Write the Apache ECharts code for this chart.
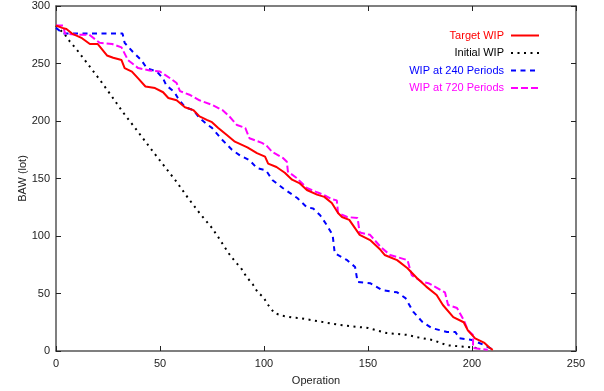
<!DOCTYPE html>
<html>
<head>
<meta charset="utf-8">
<script src="https://cdn.jsdelivr.net/npm/echarts@6/dist/echarts.min.js"></script>
<style>
  html, body { margin: 0; padding: 0; background: #fff; }
  #chart { width: 604px; height: 391px; }
</style>
</head>
<body>
<div id="chart"></div>
<script>
// Axis ticks
const xTicks = [0, 50, 100, 150, 200, 250];
const yTicks = [0, 50, 100, 150, 200, 250, 300];

// Series names
const seriesNames = ['Target WIP', 'Initial WIP', 'WIP at 240 Periods', 'WIP at 720 Periods'];

// [operation, BAW (lot)]
const targetWip = [
  [0,283],[3,281],[5,280],[7.7,276],[12.5,272],[16.3,267],[20,267],[24.5,257],[27.5,255],[31.5,253],
  [33,246],[36.5,243],[39.5,237],[43,230],[47.6,228.6],[51.5,225],[54,220],[58,218],[62,212],[66,209.5],
  [69,204],[72.5,201],[75,199],[78,194],[82,188],[86,182],[92,177],[96.6,172],[100.5,169],[102,163],
  [106,160],[110,155],[113.5,149],[117,146],[120.6,140],[125.5,136],[129,134],[132.6,128.7],[135.6,120],
  [137.5,116.5],[141,114],[146,101],[151,96.5],[156,88],[158,83.5],[164,79],[169,72],[173.5,63.5],
  [178,56],[183,48.7],[186,40],[191,29.5],[196,25],[198,18],[201.5,11],[206,7],[208.6,2.6],[210,1]
];

const initialWip = [
  [0,283],[4.3,275],[6.7,269],[10,262],[15.5,249],[21,236],[27,221],[32,208],[38,194],[46.8,173],
  [52.4,160],[58,147],[63.5,133],[69,120],[75,107],[78,99],[83,85],[86,78],[89,72],[91.6,64.5],
  [94.6,58],[97,51],[99.6,47],[102,40],[105,33],[109,30.6],[114,29],[117,28.7],[136.5,22.6],
  [144.7,21],[150,20],[159,15.6],[169,14],[173.5,12],[181,9.6],[188,5],[197.6,3.5],[202.4,2.6]
];

const wip240 = [
  [0,281],[3.5,276],[32,276],[33,268],[37,260],[41,253],[43.6,246],[48.5,243],[51.5,237],[53,231],
  [57,225],[58.6,220],[62,212],[66,209.5],[69,202.6],[73,196.5],[75,194],[80,183.5],[84.6,175],
  [88.5,170],[93,166],[96.6,159],[101,157],[104,148.7],[109,141.7],[116,133],[120.6,125],[123.6,124],
  [127,118],[130,110],[133,101],[134,85],[140,79],[143.8,73],[145,60],[151,59],[156.7,53],[164,51],
  [168,46],[171.8,34],[176,25.6],[180.6,20],[188,16.5],[192,16.5],[194,11],[200,9.6],[206,5],[209.6,1.7]
];

const wip720 = [
  [0,283],[3.5,283],[4.3,276],[10,275],[16,275],[21,268],[27,267],[31.5,264],[34.6,253],[39.5,246],
  [45,244],[50,243],[55,237],[58,233],[59.6,226],[64.5,222.6],[69,218],[75,214],[80,209.5],[83.6,203.5],
  [87,196.5],[91,194],[93,185],[99,181],[101,179],[104,173],[109,168],[111,164.5],[111.5,156],[116,150],
  [120.6,141.7],[125.5,138],[128.4,136],[132.6,132],[135,131],[135.6,120],[140,116.5],[145,115.6],
  [146,103],[151,101],[156,90.6],[160.6,83.5],[169,79],[171,66],[176,60],[179,59],[187,51],[188.5,40],
  [192.8,37.4],[196,27],[198,18],[200.5,14],[200.5,2.6],[207.6,1]
];

const FONT = "'Liberation Sans', Arial, sans-serif";
const colors = ['#ff0000', '#000000', '#0000ff', '#ff00ff'];

const chart = echarts.init(document.getElementById('chart'), null, { renderer: 'canvas' });

function valueAxis(extra) {
  return Object.assign({
    type: 'value',
    splitLine: { show: false },
    axisLine: { show: true, onZero: false, lineStyle: { color: '#555', width: 1.5 } },
    axisTick: { show: true, inside: true, length: 5, lineStyle: { color: '#222', width: 1 } },
    axisLabel: { color: '#222', fontFamily: FONT, fontSize: 11 }
  }, extra);
}

chart.setOption({
  animation: false,
  backgroundColor: '#fff',
  grid: { left: 56, right: 28, top: 6, bottom: 40, containLabel: false },
  xAxis: [
    valueAxis({
      min: xTicks[0], max: xTicks[xTicks.length - 1], interval: 50, position: 'bottom',
      name: 'Operation', nameLocation: 'middle', nameGap: 24, nameMoveOverlap: false,
      nameTextStyle: { color: '#222', fontFamily: FONT, fontSize: 11 },
      axisLabel: { color: '#222', fontFamily: FONT, fontSize: 11, margin: 7 }
    }),
    valueAxis({
      min: xTicks[0], max: xTicks[xTicks.length - 1], interval: 50, position: 'top',
      axisLabel: { show: false }
    })
  ],
  yAxis: [
    valueAxis({
      min: yTicks[0], max: yTicks[yTicks.length - 1], interval: 50, position: 'left',
      name: 'BAW (lot)', nameLocation: 'middle', nameGap: 28, nameRotate: 90, nameMoveOverlap: false,
      nameTextStyle: { color: '#222', fontFamily: FONT, fontSize: 11 },
      axisLabel: { color: '#222', fontFamily: FONT, fontSize: 11, margin: 6 }
    }),
    valueAxis({
      min: yTicks[0], max: yTicks[yTicks.length - 1], interval: 50, position: 'right',
      axisLabel: { show: false }
    })
  ],
  legend: {
    orient: 'vertical',
    align: 'right',
    right: 59,
    top: 25,
    itemWidth: 28,
    itemHeight: 12,
    itemGap: 6.5,
    itemStyle: { opacity: 0 },
    textStyle: { fontFamily: FONT, fontSize: 11, padding: [0, 2, 0, 0] },
    data: seriesNames.map((n, i) => ({ name: n, textStyle: { color: colors[i] } }))
  },
  series: [
    {
      name: seriesNames[0], type: 'line', data: targetWip, symbol: 'none', z: 4,
      lineStyle: { color: colors[0], width: 2 }, itemStyle: { color: colors[0] }
    },
    {
      name: seriesNames[1], type: 'line', data: initialWip, symbol: 'none', z: 1,
      lineStyle: { color: colors[1], width: 2, type: [2, 4.5] }, itemStyle: { color: colors[1] }
    },
    {
      name: seriesNames[2], type: 'line', data: wip240, symbol: 'none', z: 2,
      lineStyle: { color: colors[2], width: 2, type: [5, 4.5] }, itemStyle: { color: colors[2] }
    },
    {
      name: seriesNames[3], type: 'line', data: wip720, symbol: 'none', z: 3,
      lineStyle: { color: colors[3], width: 2, type: [7, 3] }, itemStyle: { color: colors[3] }
    }
  ]
});
</script>
</body>
</html>
